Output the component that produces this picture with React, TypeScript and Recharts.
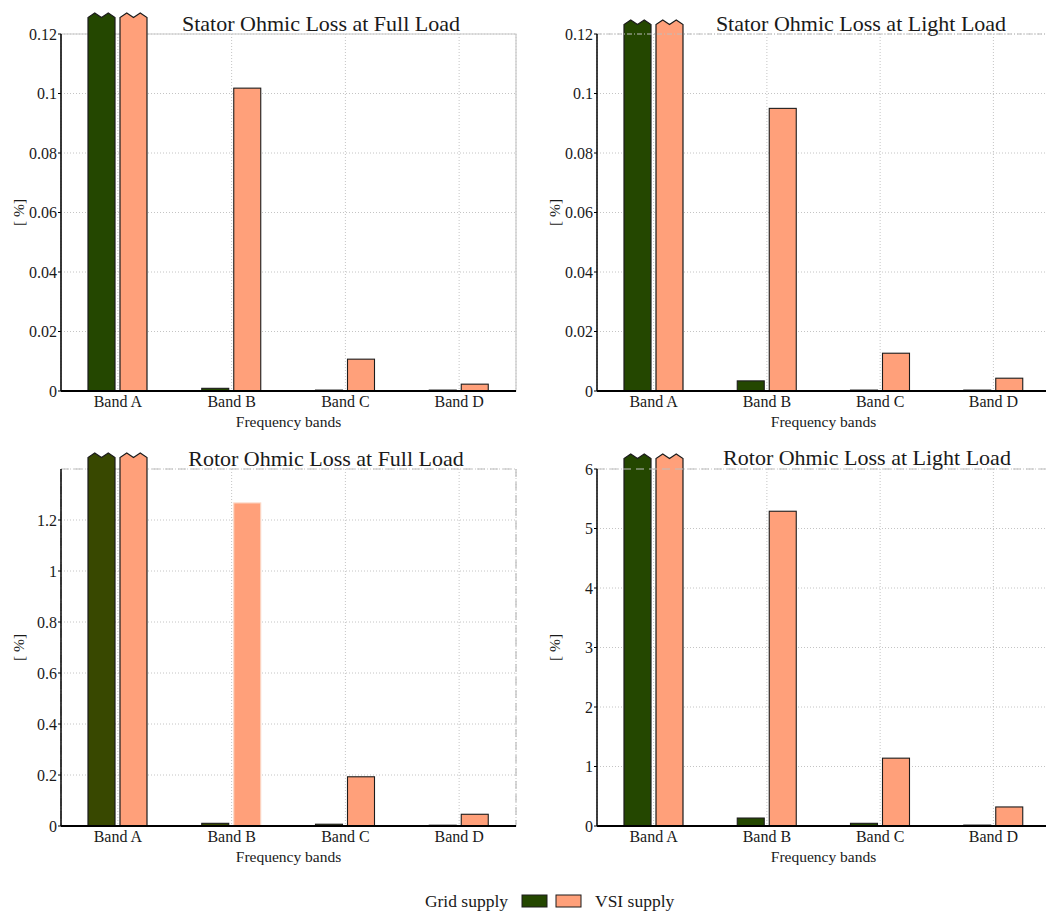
import { BarChart, Bar, XAxis, YAxis, CartesianGrid, ReferenceArea, ReferenceLine, Cell } from "recharts";

const FONT = "'Liberation Serif', 'Times New Roman', serif";
const GREEN = "#244700";
const OLIVE = "#384800";
const SALMON = "#ffa07a";
const EDGE = "#1c1c1c";
const INK = "#1a1a1a";

const bands = ["Band A", "Band B", "Band C", "Band D"];

// Band A runs off the top of every panel, so its values are estimates
const statorFullGrid = [2.1, 0.0009, 0.0003, 0.0003];
const statorFullVsi = [2.2, 0.1018, 0.0107, 0.0023];
const statorLightGrid = [0.45, 0.0034, 0.0003, 0.0003];
const statorLightVsi = [0.5, 0.095, 0.0127, 0.0043];
const rotorFullGrid = [1.9, 0.0105, 0.007, 0.003];
const rotorFullVsi = [2.0, 1.267, 0.193, 0.046];
const rotorLightGrid = [9.5, 0.134, 0.045, 0.015];
const rotorLightVsi = [10.2, 5.29, 1.14, 0.32];

const statorTicks = [0, 0.02, 0.04, 0.06, 0.08, 0.1, 0.12];
const rotorFullTicks = [0, 0.2, 0.4, 0.6, 0.8, 1, 1.2];
const rotorLightTicks = [0, 1, 2, 3, 4, 5, 6];

const fmt = (v: number) => String(+v.toFixed(3));

function brokenBar(max: number, rawKey: "grid" | "vsi", overshoot: number) {
  return (p: any) => {
    const { x, y, width: w, height: h, fill, stroke } = p;
    if (p.payload[rawKey] <= max) {
      return <rect x={x} y={y} width={w} height={Math.max(h, 0)} fill={fill} stroke={stroke} strokeWidth={1.1} />;
    }
    const top = y - overshoot;
    const amp = 4.5;
    const d = `M${x},${y + h} L${x},${top + amp} L${x + w * 0.25},${top} L${x + w * 0.5},${top + amp} L${x + w * 0.75},${top} L${x + w},${top + amp} L${x + w},${y + h} Z`;
    return <path d={d} fill={fill} stroke={stroke} strokeWidth={1.2} />;
  };
}

function YLabel(props: any) {
  const vb = props.viewBox || {};
  const cx = vb.x + 7;
  const cy = vb.y + vb.height / 2;
  return (
    <text
      x={cx}
      y={cy}
      transform={`rotate(-90 ${cx} ${cy})`}
      textAnchor="middle"
      dominantBaseline="central"
      fontSize={15.5}
      fill={INK}
    >
      [ %]
    </text>
  );
}

type PanelProps = {
  left: number;
  top: number;
  margin: { top: number; left: number; right: number; bottom: number };
  grid: number[];
  vsi: number[];
  ticks: number[];
  max: number;
  gridFill: string;
  overshoot: number;
  frame: "box" | "boxDashed" | "topDashDot" | "topDashed";
  paleEdge?: number;
};

function Panel({ left, top, margin, grid, vsi, ticks, max, gridFill, overshoot, frame, paleEdge }: PanelProps) {
  const data = bands.map((band, i) => ({ band, grid: grid[i], vsi: vsi[i] }));
  const tickStyle = { fontSize: 16, fill: INK };
  return (
    <div style={{ position: "absolute", left, top }}>
      <BarChart width={523} height={440} data={data} margin={margin} barGap={5} barCategoryGap="24%">
        <CartesianGrid stroke="#c4c4c4" strokeDasharray="1 2" />
        {frame === "box" && <ReferenceArea y1={0} y2={max} fill="none" stroke="#c8c8c8" strokeWidth={1.2} />}
        {frame === "boxDashed" && (
          <ReferenceArea y1={0} y2={max} fill="none" stroke="#bdbdbd" strokeWidth={1.2} strokeDasharray="8 5" />
        )}
        {frame === "topDashDot" && <ReferenceLine y={max} stroke="#bdbdbd" strokeDasharray="5 2 1 2" />}
        {frame === "topDashed" && <ReferenceLine y={max} stroke="#bdbdbd" strokeWidth={1.2} strokeDasharray="8 5" />}
        <XAxis
          dataKey="band"
          height={40}
          tickSize={4}
          tickMargin={1}
          tickLine={false}
          interval={0}
          axisLine={{ stroke: "#000", strokeWidth: 2 }}
          tick={tickStyle}
          label={{ value: "Frequency bands", position: "insideBottom", offset: 4, fontSize: 15.5, fill: INK }}
        />
        <YAxis
          domain={[0, max]}
          ticks={ticks}
          width={50}
          tickSize={3}
          tickMargin={1}
          tickFormatter={fmt}
          axisLine={{ stroke: "#000", strokeWidth: 1.5 }}
          tickLine={{ stroke: "#000" }}
          tick={tickStyle}
          label={{ content: YLabel }}
        />
        <Bar
          dataKey={(d: any) => Math.min(d.grid, max)}
          name="Grid supply"
          fill={gridFill}
          stroke={EDGE}
          barSize={27}
          isAnimationActive={false}
          shape={brokenBar(max, "grid", overshoot)}
        />
        <Bar
          dataKey={(d: any) => Math.min(d.vsi, max)}
          name="VSI supply"
          fill={SALMON}
          stroke={EDGE}
          barSize={27}
          isAnimationActive={false}
          shape={brokenBar(max, "vsi", overshoot)}
        >
          {data.map((_, i) => (
            <Cell key={i} fill={SALMON} stroke={i === paleEdge ? "#fcd9c8" : EDGE} />
          ))}
        </Bar>
      </BarChart>
    </div>
  );
}

export default function App() {
  return (
    <div
      style={{
        position: "absolute",
        left: 0,
        top: 0,
        width: 1046,
        height: 915,
        background: "#fff",
        fontFamily: FONT,
        overflow: "hidden",
      }}
    >
      <style>{`svg text, .recharts-text { font-family: 'Liberation Serif', 'Times New Roman', serif !important; }`}</style>
      <Panel
        left={0}
        top={0}
        margin={{ top: 34, left: 11, right: 7, bottom: 9 }}
        grid={statorFullGrid}
        vsi={statorFullVsi}
        ticks={statorTicks}
        max={0.12}
        gridFill={GREEN}
        overshoot={21}
        frame="box"
      />
      <Panel
        left={523}
        top={0}
        margin={{ top: 34, left: 24, right: -4, bottom: 9 }}
        grid={statorLightGrid}
        vsi={statorLightVsi}
        ticks={statorTicks}
        max={0.12}
        gridFill={GREEN}
        overshoot={14}
        frame="topDashDot"
      />
      <Panel
        left={0}
        top={440}
        margin={{ top: 29, left: 11, right: 7, bottom: 14 }}
        grid={rotorFullGrid}
        vsi={rotorFullVsi}
        ticks={rotorFullTicks}
        max={1.4}
        gridFill={OLIVE}
        overshoot={16}
        frame="boxDashed"
        paleEdge={1}
      />
      <Panel
        left={523}
        top={440}
        margin={{ top: 29, left: 24, right: -4, bottom: 14 }}
        grid={rotorLightGrid}
        vsi={rotorLightVsi}
        ticks={rotorLightTicks}
        max={6}
        gridFill={GREEN}
        overshoot={15}
        frame="topDashed"
      />
      <svg width={1046} height={915} style={{ position: "absolute", left: 0, top: 0, pointerEvents: "none" }}>
        <g fontSize={22} fill={INK} textAnchor="middle">
          <text x={321} y={31}>Stator Ohmic Loss at Full Load</text>
          <text x={861} y={31}>Stator Ohmic Loss at Light Load</text>
          <text x={326} y={466}>Rotor Ohmic Loss at Full Load</text>
          <text x={867} y={465}>Rotor Ohmic Loss at Light Load</text>
        </g>
        <g fontSize={17.5} fill={INK}>
          <text x={508} y={907} textAnchor="end">Grid supply</text>
          <rect x={522} y={895} width={25} height={12} fill={GREEN} stroke={EDGE} />
          <rect x={556} y={895} width={25} height={12} fill={SALMON} stroke={EDGE} />
          <text x={595} y={907}>VSI supply</text>
        </g>
      </svg>
    </div>
  );
}
